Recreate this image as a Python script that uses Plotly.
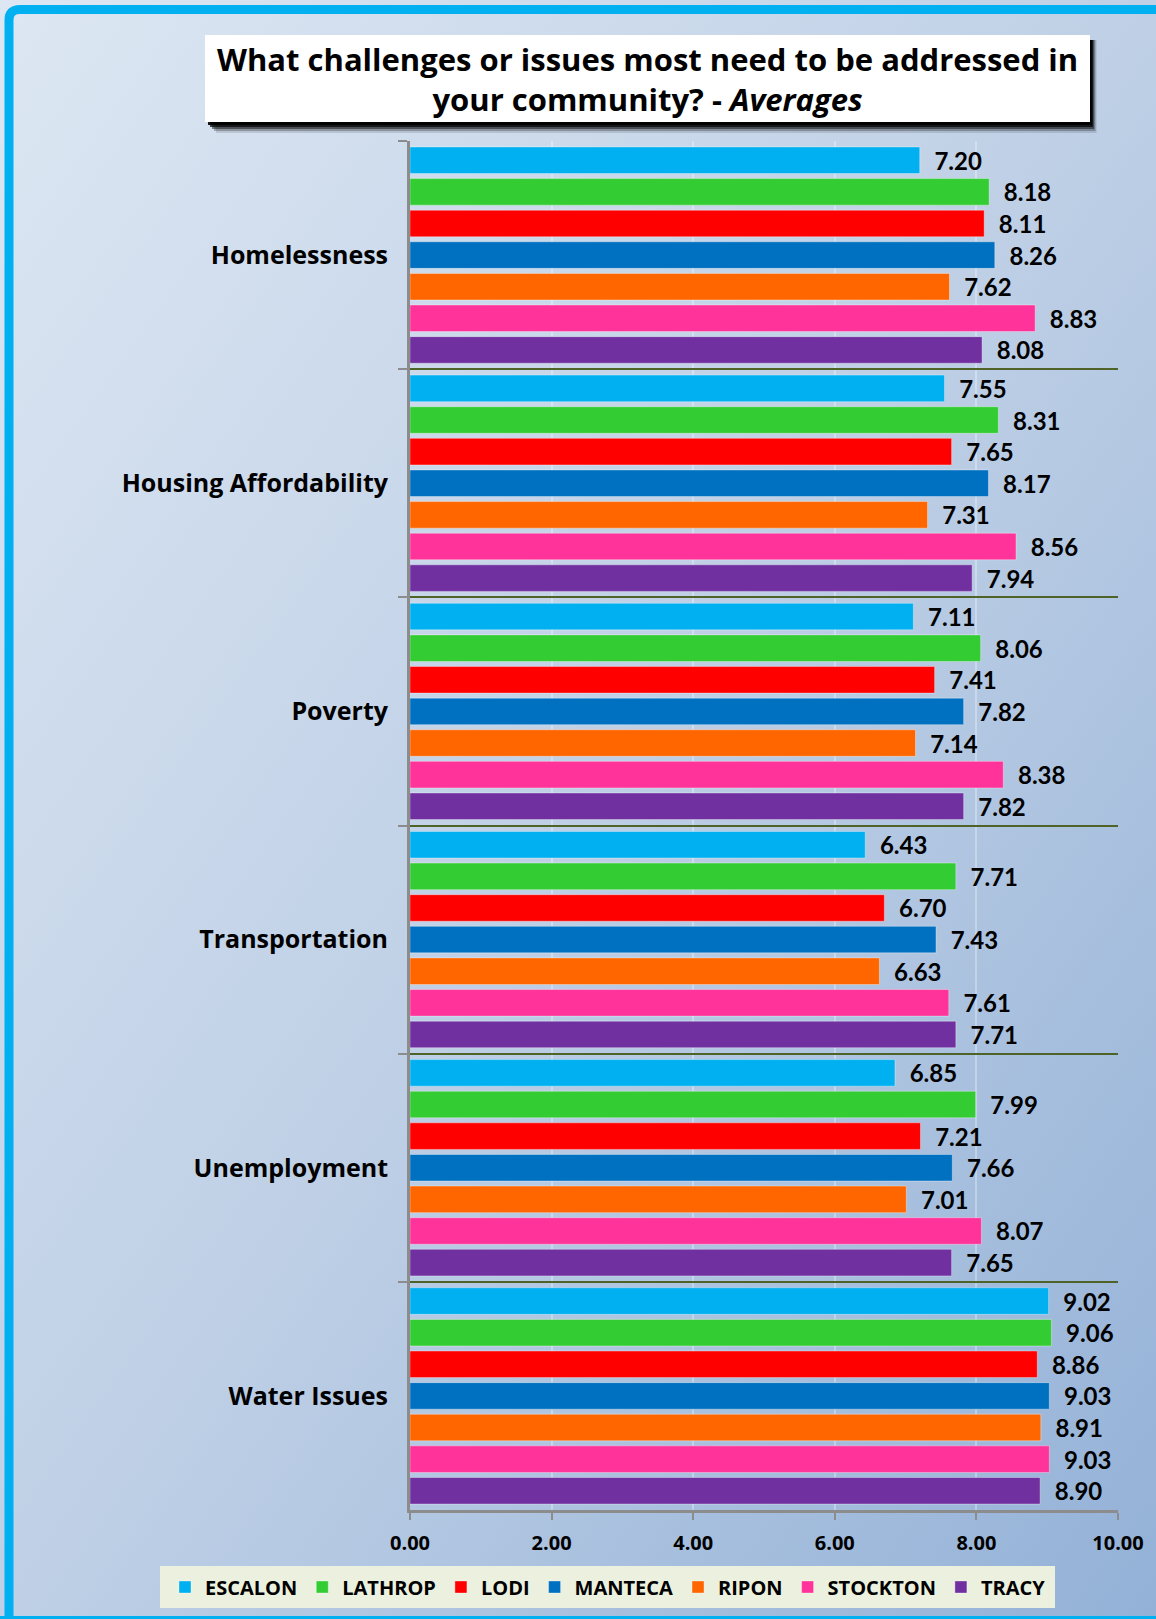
import base64
import plotly.graph_objects as go

categories = ["Homelessness", "Housing Affordability", "Poverty",
              "Transportation", "Unemployment", "Water Issues"]
cities = ["ESCALON", "LATHROP", "LODI", "MANTECA", "RIPON", "STOCKTON", "TRACY"]
colors = ["#00b0f0", "#33cc33", "#ff0000", "#0070c0", "#ff6600", "#ff3399", "#7030a0"]

escalon = [7.20, 7.55, 7.11, 6.43, 6.85, 9.02]
lathrop = [8.18, 8.31, 8.06, 7.71, 7.99, 9.06]
lodi = [8.11, 7.65, 7.41, 6.70, 7.21, 8.86]
manteca = [8.26, 8.17, 7.82, 7.43, 7.66, 9.03]
ripon = [7.62, 7.31, 7.14, 6.63, 7.01, 8.91]
stockton = [8.83, 8.56, 8.38, 7.61, 8.07, 9.03]
tracy = [8.08, 7.94, 7.82, 7.71, 7.65, 8.90]
series = [escalon, lathrop, lodi, manteca, ripon, stockton, tracy]

x_ticks = [0, 2, 4, 6, 8, 10]
title_text = "What challenges or issues most need to be addressed in<br>your community? - <i>Averages</i>"

W, H = 1156, 1619
L, R, T, B = 410, 38, 141, 109
PW, PH = W - L - R, H - T - B


def px(x):
    return (x - L) / PW


def py(y):
    return (H - B - y) / PH


fig = go.Figure()
for name, vals, col in zip(cities, series, colors):
    fig.add_trace(go.Bar(
        y=categories, x=vals, name=name, orientation="h",
        marker=dict(color=col, line=dict(color="rgba(255,255,255,0.35)", width=1)),
        text=vals, texttemplate="\u00a0\u00a0%{x:.2f}", textposition="outside",
        constraintext="none",
        textfont=dict(family="Lato", size=24, color="black", weight="bold"),
        cliponaxis=False,
    ))

svg = ('<svg xmlns="http://www.w3.org/2000/svg" width="1156" height="1619">'
       '<defs><linearGradient id="g" x1="0" y1="0" x2="1" y2="1">'
       '<stop offset="0" stop-color="#dde7f3"/><stop offset="0.5" stop-color="#bfd0e6"/>'
       '<stop offset="1" stop-color="#93b1d7"/></linearGradient></defs>'
       '<rect width="1156" height="1619" fill="url(#g)"/></svg>')
src = "data:image/svg+xml;base64," + base64.b64encode(svg.encode()).decode()

fig.add_layout_image(dict(source=src, xref="paper", yref="paper",
                          x=px(0), y=py(0), sizex=W / PW, sizey=H / PH,
                          xanchor="left", yanchor="top", sizing="stretch", layer="below"))

shapes = []
# cyan frame
shapes.append(dict(type="path", xref="paper", yref="paper",
                   path=f"M {px(9)},{py(1625)} L {px(9)},{py(20)} Q {px(9)},{py(9.5)} {px(20)},{py(9.5)} L {px(1170)},{py(9.5)}",
                   line=dict(color="#00b0f0", width=9), layer="above"))
shapes.append(dict(type="line", xref="paper", yref="paper", x0=px(0), x1=px(1160),
                   y0=py(1617.5), y1=py(1617.5), line=dict(color="#00b0f0", width=3)))
# title shadow + box
for off, op in [(11, 0.12), (9, 0.25), (7, 0.45), (5, 0.7), (3, 0.9)]:
    shapes.append(dict(type="rect", xref="paper", yref="paper",
                       x0=px(205 + off), x1=px(1090 + off * 0.6), y0=py(40), y1=py(122 + off),
                       fillcolor=f"rgba(0,0,0,{op})", line=dict(width=0), layer="above"))
shapes.append(dict(type="rect", xref="paper", yref="paper",
                   x0=px(205), x1=px(1090), y0=py(35), y1=py(122),
                   fillcolor="white", line=dict(width=0), layer="above"))
# legend bg
shapes.append(dict(type="rect", xref="paper", yref="paper",
                   x0=px(160), x1=px(1055), y0=py(1566), y1=py(1608),
                   fillcolor="#ebf1de", line=dict(width=0), layer="below"))
fig.update_layout(shapes=shapes)

fig.add_annotation(xref="paper", yref="paper", x=px(647), y=py(79),
                   xanchor="center", yanchor="middle", showarrow=False, text=title_text,
                   font=dict(family="Open Sans", size=31, color="black", weight="bold"))

fig.update_layout(
    width=W, height=H,
    margin=dict(l=L, r=R, t=T, b=B, pad=0),
    paper_bgcolor="#c5d5ea", plot_bgcolor="rgba(0,0,0,0)",
    barmode="group", bargap=0.03, bargroupgap=0.16,
    showlegend=True,
    legend=dict(orientation="h", x=px(165), xanchor="left", y=py(1587), yanchor="middle",
                bgcolor="rgba(0,0,0,0)", traceorder="normal", borderwidth=0,
                font=dict(family="Open Sans", size=20, color="black", weight="bold"),
                itemwidth=30, tracegroupgap=0),
    xaxis=dict(range=[0, 10], tickvals=x_ticks, tickformat=".2f",
               showgrid=True, gridcolor="rgba(255,255,255,0.3)", gridwidth=1.5,
               showline=True, linecolor="#8c8c8c", linewidth=3,
               ticks="outside", ticklen=7, tickwidth=2, tickcolor="#8c8c8c",
               ticklabelstandoff=6,
               tickfont=dict(family="Open Sans", size=20, color="black", weight="bold"),
               zeroline=False, fixedrange=True),
    yaxis=dict(autorange="reversed", type="category", tickson="boundaries",
               showgrid=True, gridcolor="#4f6228", gridwidth=2,
               showline=True, linecolor="#8c8c8c", linewidth=3,
               ticks="outside", ticklen=9, tickwidth=2, tickcolor="#8c8c8c",
               ticklabelstandoff=14,
               tickfont=dict(family="Open Sans", size=25, color="black", weight="bold"),
               fixedrange=True),
)

fig.write_html("out.html", config={"displayModeBar": False},
               post_script="document.body.style.margin='0';document.body.style.overflow='hidden';")
